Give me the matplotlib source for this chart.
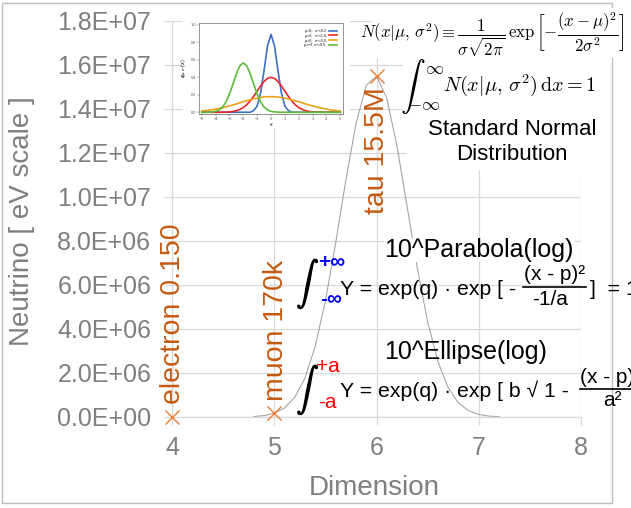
#!/usr/bin/env python3
"""Neutrino / lepton mass chart with a 10^parabola(log) curve and formula notes."""

import numpy as np
import matplotlib
matplotlib.use('Agg')
import matplotlib.pyplot as plt
import matplotlib.patheffects as pe
from matplotlib.patches import Rectangle
from matplotlib.lines import Line2D
from matplotlib.ticker import FuncFormatter

# lepton points (Dimension, mass in eV)
dims = [4, 5, 6]
masses = [0.150, 170000, 15500000]
point_labels = ["electron 0.150", "muon 170k", "tau 15.5M"]

# smooth curve
curve_x = [4.8, 4.9, 5.0, 5.1, 5.2, 5.3, 5.4, 5.5, 5.6, 5.7, 5.8, 5.9, 6.0,
           6.1, 6.2, 6.3, 6.4, 6.5, 6.6, 6.7, 6.8, 6.9, 7.0, 7.1, 7.2]
curve_y = [22000, 64000, 170000, 407000, 890000, 1770000, 3200000, 5270000,
           7890000, 10760000, 13340000, 15080000, 15500000, 14500000, 12330000,
           9560000, 6740000, 4330000, 2530000, 1340000, 650000, 287000,
           115000, 42000, 14000]

# inset picture: normal densities
inset_x = [-5, -4.75, -4.5, -4.25, -4, -3.75, -3.5, -3.25, -3, -2.75, -2.5,
           -2.25, -2, -1.75, -1.5, -1.25, -1, -0.75, -0.5, -0.25, 0, 0.25,
           0.5, 0.75, 1, 1.25, 1.5, 1.75, 2, 2.25, 2.5, 2.75, 3, 3.25, 3.5,
           3.75, 4, 4.25, 4.5, 4.75, 5]
inset_blue = [0] * 15 + [0.02, 0.07, 0.22, 0.48, 0.76, 0.89, 0.76, 0.48,
                         0.22, 0.07, 0.02] + [0] * 15
inset_red = [0, 0, 0, 0, 0, 0, 0.001, 0.002, 0.004, 0.009, 0.018, 0.032,
             0.054, 0.086, 0.130, 0.183, 0.242, 0.301, 0.352, 0.387, 0.399,
             0.387, 0.352, 0.301, 0.242, 0.183, 0.130, 0.086, 0.054, 0.032,
             0.018, 0.009, 0.004, 0.002, 0.001, 0, 0, 0, 0, 0, 0]
inset_orange = [0.015, 0.019, 0.024, 0.029, 0.036, 0.044, 0.052, 0.062,
                0.073, 0.084, 0.095, 0.108, 0.120, 0.131, 0.142, 0.153,
                0.161, 0.169, 0.174, 0.177, 0.178, 0.177, 0.174, 0.169,
                0.161, 0.153, 0.142, 0.131, 0.120, 0.108, 0.095, 0.084,
                0.073, 0.062, 0.052, 0.044, 0.036, 0.029, 0.024, 0.019, 0.015]
inset_green = [0, 0, 0.001, 0.004, 0.010, 0.027, 0.059, 0.118, 0.207, 0.321,
               0.439, 0.530, 0.564, 0.530, 0.439, 0.321, 0.207, 0.118, 0.059,
               0.027, 0.010, 0.004, 0.001] + [0] * 18
inset_names = ["μ=0,   σ²=0.2,", "μ=0,   σ²=1.0,", "μ=0,   σ²=5.0,",
               "μ=−2, σ²=0.5,"]

W, H = 631, 508
GRID = '#D9D9D9'
GRAY_TXT = '#7F7F7F'
ORANGE = '#C55A11'

plt.rcParams['font.family'] = ['Liberation Sans', 'DejaVu Sans']
fig = plt.figure(figsize=(W / 100, H / 100), dpi=100)


def put(x, y, s, **kw):
    """Place text at pixel position (from top-left)."""
    kw.setdefault('zorder', 3)
    return fig.text(x / W, 1 - y / H, s, **kw)


def box(x0, y0, x1, y1, **kw):
    r = Rectangle((x0 / W, 1 - y1 / H), (x1 - x0) / W, (y1 - y0) / H,
                  transform=fig.transFigure, **kw)
    fig.patches.append(r)


def hline(x0, x1, y, **kw):
    fig.lines.append(Line2D([x0 / W, x1 / W], [1 - y / H, 1 - y / H],
                            transform=fig.transFigure, **kw))


# main axes
ax = fig.add_axes([172 / W, 1 - 417 / H, (581 - 172) / W, (417 - 21) / H])
ax.set_xlim(4, 8)
ax.set_ylim(0, 1.8e7)
ax.set_xticks([4, 5, 6, 7, 8])
ax.set_yticks(np.arange(0, 1.8e7 + 1, 2e6))
ax.yaxis.set_major_formatter(FuncFormatter(lambda v, p: f"{v:.1E}"))
ax.grid(color=GRID, lw=0.9)
ax.set_axisbelow(True)
for s in ['top', 'right']:
    ax.spines[s].set_visible(False)
for s in ['left', 'bottom']:
    ax.spines[s].set_color(GRID)
    ax.spines[s].set_linewidth(0.9)
ax.tick_params(axis='both', colors=GRID, labelcolor=GRAY_TXT, labelsize=18,
               length=6, width=0.9)
ax.tick_params(axis='y', pad=9)
ax.tick_params(axis='x', pad=8)

ax.plot(curve_x, curve_y, color='#A6A6A6', lw=0.8)
ax.plot(dims, masses, ls='none', marker='x', ms=10, mew=1.0,
        color='#ED7D31', clip_on=False, zorder=4)

for d, m, lbl in zip(dims, masses, point_labels):
    if m > 1e7:
        ax.annotate(lbl, (d, m), xytext=(0, -8), textcoords='offset points',
                    rotation=90, ha='center', va='top', fontsize=20.5,
                    color=ORANGE)
    else:
        ax.annotate(lbl, (d, m), xytext=(1, 9), textcoords='offset points',
                    rotation=90, ha='center', va='bottom', fontsize=20.5,
                    color=ORANGE)

put(22, 221, 'Neutrino [ eV scale ]', rotation=90, ha='center', va='center',
    fontsize=20, color=GRAY_TXT)
put(374, 488, 'Dimension', ha='center', va='center', fontsize=20,
    color=GRAY_TXT)

# outer chart border
box(2, 3, 612, 503, fill=False, ec='#BFBFBF', lw=1, zorder=0.5)

# white backgrounds of pasted pictures
box(183, 12, 350, 128, fc='white', ec='none', zorder=1)
box(372, 8, 631, 58, fc='white', ec='none', zorder=1)
box(403, 58, 606, 115, fc='white', ec='none', zorder=1)
box(407, 115, 600, 170, fc='white', ec='none', zorder=1)

# inset plot of normal distributions
ax_in = fig.add_axes([199 / W, 1 - 114 / H, (343 - 199) / W, (114 - 23) / H],
                     zorder=2)
for yv, c, name in zip([inset_blue, inset_red, inset_orange, inset_green],
                       ['#3C6FC4', '#E8262A', '#E8A317', '#5DBB3A'],
                       inset_names):
    ax_in.plot(inset_x, yv, color=c, lw=1.2, label=name)
ax_in.set_xlim(-5.2, 5.2)
ax_in.set_ylim(-0.02, 1.02)
ax_in.set_xticks(range(-5, 6))
ax_in.set_yticks([0, 0.2, 0.4, 0.6, 0.8, 1.0])
ax_in.tick_params(labelsize=2.8, length=1.2, width=0.3, pad=1,
                  colors='#555555')
for s in ax_in.spines.values():
    s.set_linewidth(0.4)
    s.set_color('#444444')
ax_in.set_xlabel('x', fontsize=4, labelpad=0.5, style='italic')
ax_in.set_ylabel(r'$\varphi_{\mu,\sigma^2}(x)$', fontsize=3.5, labelpad=0.5)
ax_in.legend(fontsize=2.6, frameon=False, loc='upper right',
             markerfirst=False, handlelength=2.2, labelspacing=0.25,
             borderaxespad=1.2)

bold = [pe.withStroke(linewidth=0.9, foreground='black')]

# Gaussian formulas (Computer Modern look)
put(360, 35, r"$N(x|\mu,\,\sigma^2) \equiv \dfrac{1}{\sigma\sqrt{2\pi}}\,"
    r"\exp\left[-\dfrac{(x-\mu)^2}{2\sigma^2}\right]$",
    math_fontfamily='cm', fontsize=12.1, ha='left', va='center')
put(413, 87, r"$\int$", math_fontfamily='cm', fontsize=18, ha='center',
    va='center')
put(435, 69, r"$\infty$", math_fontfamily='cm', fontsize=13, ha='center',
    va='center')
put(424, 106, r"$-\infty$", math_fontfamily='cm', fontsize=13, ha='center',
    va='center')
put(443, 85, r"$N(x|\mu,\,\sigma^2)\,\mathrm{d}x = 1$", math_fontfamily='cm',
    fontsize=14.5, ha='left', va='center')
put(512, 142, 'Standard Normal\nDistribution', ha='center', va='center',
    fontsize=16, linespacing=1.3, color='black')

# 10^Parabola(log)
put(479, 250, '10^Parabola(log)', ha='center', va='center', fontsize=18,
    color='black', bbox=dict(fc='white', ec='none', pad=0))
put(308, 284, r"$\int$", math_fontfamily='cm', fontsize=16, ha='center',
    va='center', path_effects=bold)
put(332, 263, '+∞', ha='center', va='center', fontsize=15, color='#0000FF',
    fontweight='bold')
put(331, 300, '-∞', ha='center', va='center', fontsize=15, color='#0000FF',
    fontweight='bold')
put(340, 295, 'Y = exp(q) · exp [ -', ha='left', va='baseline', fontsize=15.3)
put(555, 280, '(x - p)²', ha='center', va='baseline', fontsize=15)
hline(523, 586, 287, color='black', lw=1.2, zorder=3)
put(550, 305, '-1/a', ha='center', va='baseline', fontsize=15)
put(590, 295, ']  = 1', ha='left', va='baseline', fontsize=15.3)

# 10^Ellipse(log)
put(466, 352, '10^Ellipse(log)', ha='center', va='center', fontsize=18,
    color='black')
put(308, 390, r"$\int$", math_fontfamily='cm', fontsize=16, ha='center',
    va='center', path_effects=bold)
put(328, 366, '+a', ha='center', va='center', fontsize=15, color='#FF0000')
put(327, 402, '-a', ha='center', va='center', fontsize=15, color='#FF0000')
put(340, 397, 'Y = exp(q) · exp [ b √ 1 -', ha='left', va='baseline',
    fontsize=15.3)
put(580, 383, '(x - p)²', ha='left', va='baseline', fontsize=15)
hline(580, 631, 389, color='black', lw=1.2, zorder=3)
put(603, 406, 'a²', ha='left', va='baseline', fontsize=15)

fig.savefig('out.png', dpi=100)
